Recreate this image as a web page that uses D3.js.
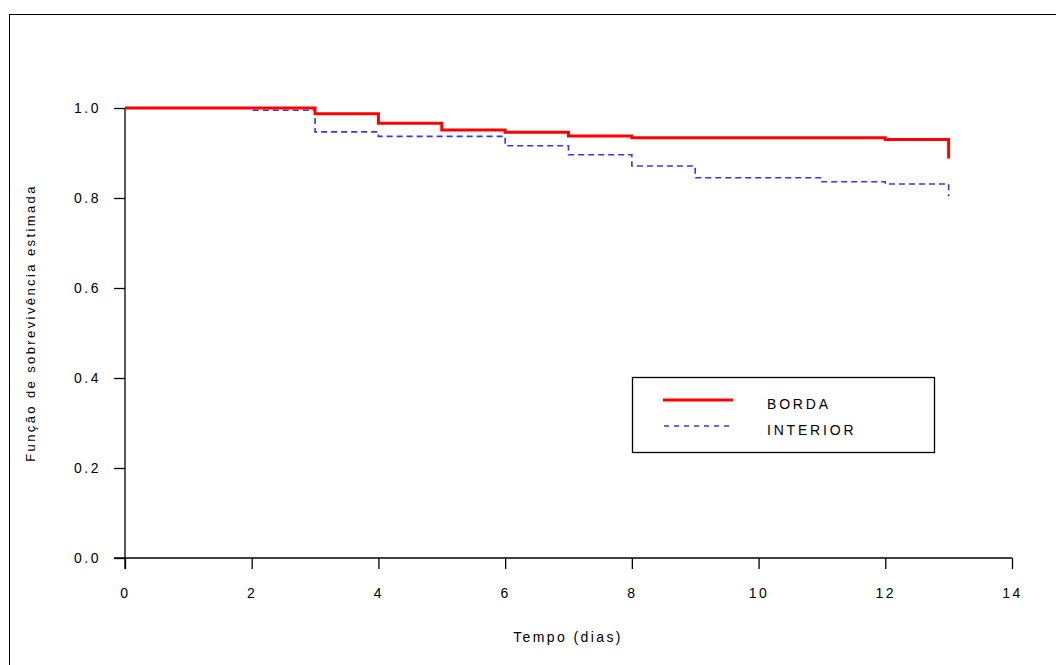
<!DOCTYPE html>
<html>
<head>
<meta charset="utf-8">
<script src="https://cdn.jsdelivr.net/npm/d3@7"></script>
<style>
  body { margin: 0; background: #fff; }
  text { font-family: "Liberation Sans", Arial, sans-serif; fill: #000; }
</style>
</head>
<body>
<div id="chart"></div>
<script>
// Kaplan-Meier step data (tempo em dias, sobrevivência estimada)
const bordaTimes = [0, 3, 4, 5, 6, 7, 8, 12, 13]
const bordaSurv  = [1.0, 0.987, 0.966, 0.951, 0.946, 0.938, 0.934, 0.930, 0.888]
const interiorTimes = [0, 2, 3, 4, 6, 7, 8, 9, 11, 12, 13]
const interiorSurv  = [1.0, 0.995, 0.947, 0.937, 0.916, 0.896, 0.871, 0.845, 0.836, 0.831, 0.804]
const xTicks = [0, 2, 4, 6, 8, 10, 12, 14]
const yTicks = [0.0, 0.2, 0.4, 0.6, 0.8, 1.0]
const seriesNames = ["BORDA", "INTERIOR"]

const W = 1056, H = 665

let svg = d3.select("#chart").append("svg")
  .attr("width", W)
  .attr("height", H)

// outer frame (right / bottom edges fall outside the picture)
svg.append("rect")
  .attr("x", 9.5).attr("y", 14.5)
  .attr("width", W + 20).attr("height", H + 20)
  .attr("fill", "none").attr("stroke", "#000").attr("stroke-width", 1)

const x = d3.scaleLinear().domain([0, 14]).range([125, 1012]),
      y = d3.scaleLinear().domain([0, 1]).range([558, 108])

// axes
let xAxis = d3.axisBottom(x).tickValues(xTicks).tickSize(11).tickPadding(19)
  .tickFormat(d3.format("d"))
let gx = svg.append("g").attr("transform", "translate(0," + y(0) + ")").call(xAxis)
gx.select(".domain").attr("d", "M114,0H" + x(14))

let yAxis = d3.axisLeft(y).tickValues(yTicks).tickSize(11).tickPadding(13)
  .tickFormat(d3.format(".1f"))
let gy = svg.append("g").attr("transform", "translate(" + x(0) + ",0)").call(yAxis)
gy.select(".domain").attr("d", "M0," + y(1) + "V" + (y(0) + 11))

svg.selectAll(".domain, .tick line").attr("stroke", "#000").attr("stroke-width", 1.3)
svg.selectAll(".tick text")
  .style("font-family", "'Liberation Sans', Arial, sans-serif")
  .style("font-size", "14px")
  .style("letter-spacing", "2.5px")
  .attr("fill", "#000")

// axis titles
svg.append("text")
  .attr("x", 568).attr("y", 642)
  .attr("text-anchor", "middle")
  .style("font-size", "14px")
  .style("letter-spacing", "2.4px")
  .text("Tempo (dias)")

svg.append("text")
  .attr("transform", "translate(35,323) rotate(-90)")
  .attr("text-anchor", "middle")
  .style("font-size", "13px")
  .style("letter-spacing", "2.4px")
  .text("Função de sobrevivência estimada")

// step path: horizontal to next time then vertical drop
function stepPath(times, surv) {
  let pts = [[times[0], surv[0]]]
  for (let i = 1; i < times.length; i++) {
    pts.push([times[i], surv[i - 1]])
    pts.push([times[i], surv[i]])
  }
  return d3.line().x(d => x(d[0])).y(d => y(d[1]))(pts)
}

svg.append("path")
  .attr("d", stepPath(interiorTimes, interiorSurv))
  .attr("fill", "none")
  .attr("stroke", "#3333ff")
  .attr("stroke-width", 1.6)
  .attr("stroke-dasharray", "6,4")

svg.append("path")
  .attr("d", stepPath(bordaTimes, bordaSurv))
  .attr("fill", "none")
  .attr("stroke", "#ff0000")
  .attr("stroke-width", 3)

// legend
let leg = svg.append("g")
leg.append("rect")
  .attr("x", 632.5).attr("y", 377.5).attr("width", 302).attr("height", 75)
  .attr("fill", "#fff").attr("stroke", "#000").attr("stroke-width", 1.3)
leg.append("line")
  .attr("x1", 663).attr("x2", 733).attr("y1", 400).attr("y2", 400)
  .attr("stroke", "#ff0000").attr("stroke-width", 3)
leg.append("line")
  .attr("x1", 664).attr("x2", 733).attr("y1", 426).attr("y2", 426)
  .attr("stroke", "#3333ff").attr("stroke-width", 1.6)
  .attr("stroke-dasharray", "5,5")
leg.selectAll("text.lab").data(seriesNames).join("text")
  .attr("class", "lab")
  .attr("x", 767)
  .attr("y", (d, i) => 409 + i * 26)
  .style("font-size", "14px")
  .style("letter-spacing", "2.8px")
  .text(d => d)
</script>
</body>
</html>
